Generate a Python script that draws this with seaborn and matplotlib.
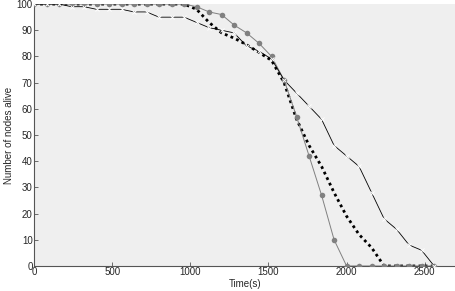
import numpy as np
import pandas as pd
import seaborn as sns
import matplotlib
matplotlib.use("Agg")
import matplotlib.pyplot as plt

# time axis (s), sampled every 80 s
time_s = list(range(0, 2561, 80))

# gray circles
alive_circle = [100, 100, 100, 100, 100, 100, 100, 100, 100, 100, 100, 100, 100,
                99, 97, 96, 92, 89, 85, 80, 71, 57, 42, 27, 10, 0,
                0, 0, 0, 0, 0, 0, 0]
# black crosses
alive_cross = [100, 100, 100, 99, 99, 98, 98, 98, 97, 97, 95, 95, 95,
               93, 91, 90, 89, 84, 82, 79, 71, 66, 61, 56, 46, 42,
               38, 28, 18, 14, 8, 6, 0]
# thick dotted
alive_dotted = [100, 100, 100, 100, 100, 100, 100, 100, 100, 100, 100, 100, 100,
                98, 93, 89, 87, 84.5, 81.5, 78.5, 70, 56, 46, 38, 28, 19,
                12, 7, 0, 0, 0, 0, 0]

df = pd.DataFrame({"t": time_s, "circle": alive_circle,
                   "cross": alive_cross, "dotted": alive_dotted})

sns.set_style("ticks")
plt.rcParams["font.family"] = ["Liberation Sans", "DejaVu Sans"]
plt.rcParams["font.size"] = 7

fig = plt.figure(figsize=(4.56, 2.91), dpi=100)
ax = fig.add_axes([0.0746, 0.086, 0.9254, 0.9])
ax.set_facecolor("#efefef")

# dotted curve
sns.lineplot(data=df, x="t", y="dotted", ax=ax, color="black",
             linestyle=(0, (1, 1.2)), linewidth=2.0, zorder=2)
# gray circles
sns.lineplot(data=df, x="t", y="circle", ax=ax, color="#808080",
             linewidth=0.7, marker="o", markersize=4, markeredgewidth=0,
             zorder=3)
# black crosses
sns.lineplot(data=df, x="t", y="cross", ax=ax, color="black",
             linewidth=0.6, marker="x", markersize=3.2, markeredgewidth=0.7,
             zorder=4)

ax.set_xlim(0, 2700)
ax.set_ylim(0, 100)
ax.set_xticks([0, 500, 1000, 1500, 2000, 2500])
ax.set_yticks(range(0, 101, 10))
ax.tick_params(direction="in", length=3, width=0.6, color="#555555",
               labelsize=7, pad=1)
for side in ["top", "right"]:
    ax.spines[side].set_visible(False)
for side in ["left", "bottom"]:
    ax.spines[side].set_color("#555555")
    ax.spines[side].set_linewidth(0.8)

ax.set_xlabel("Time(s)", fontsize=7, labelpad=1)
ax.set_ylabel("Number of nodes alive", fontsize=7, labelpad=2)

fig.savefig("out.png", dpi=100)
